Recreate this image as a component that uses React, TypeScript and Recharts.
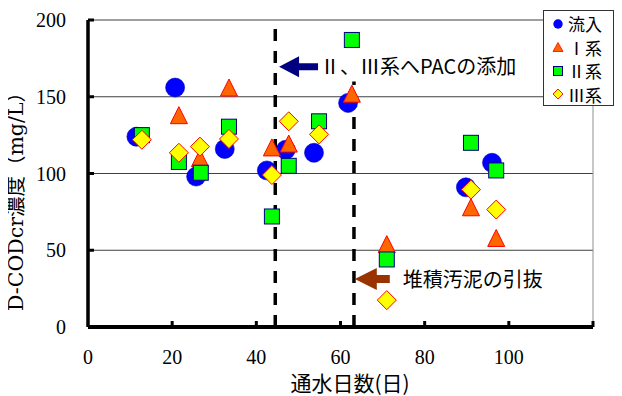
import React from 'react';
import {
  ScatterChart,
  Scatter,
  XAxis,
  YAxis,
  CartesianGrid,
  ReferenceLine,
  ReferenceDot,
  Legend,
} from 'recharts';

// ---- data ----
const seriesNames = ['流入', 'Ⅰ系', 'Ⅱ系', 'Ⅲ系'];

const inflowDays = [11.5, 20.7, 25.7, 32.5, 42.5, 47, 53.7, 61.8, 89.8, 96];
const inflowCod = [124, 156, 98, 116, 102, 115.5, 113.5, 146, 91, 107];

const sys1Days = [21.6, 26.6, 33.5, 43.7, 47.7, 62.7, 71, 91, 97];
const sys1Cod = [138, 110, 156, 117, 119.5, 152, 54, 78, 58];

const sys2Days = [12.8, 21.6, 26.8, 33.5, 43.7, 47.7, 54.9, 62.7, 71, 91, 97];
const sys2Cod = [125, 107.5, 100.5, 130.5, 72, 105, 134, 187, 44, 120, 102];

const sys3Days = [12.8, 21.6, 26.6, 33.5, 43.7, 47.7, 54.9, 71, 91, 97];
const sys3Cod = [122, 113.5, 117.5, 122.5, 99, 134, 125.5, 17.5, 89.5, 76.5];

const xTicks = [0, 20, 40, 60, 80, 100, 120];
const yTicks = [0, 50, 100, 150, 200];

const pacDay = 44.5;
const sludgeDay = 63.2;
const pacLabel = 'Ⅱ、Ⅲ系へPACの添加';
const sludgeLabel = '堆積汚泥の引抜';
const xTitle = '通水日数(日)';
const yTitle = 'D-CODcr濃度（mg/L）';

const toPoints = (xs: number[], ys: number[]) => xs.map((x, i) => ({ x, y: ys[i] }));
const inflowData = toPoints(inflowDays, inflowCod);
const sys1Data = toPoints(sys1Days, sys1Cod);
const sys2Data = toPoints(sys2Days, sys2Cod);
const sys3Data = toPoints(sys3Days, sys3Cod);

// ---- styles ----
const SERIF = "'Liberation Serif', 'Times New Roman', serif";
const SANS = "'Noto Sans CJK JP', 'Noto Sans', sans-serif";
const YSERIF = "'DejaVu Serif', 'Noto Sans CJK JP', serif";

const BLUE = '#0000FF';
const ORANGE = '#FF6600';
const RED = '#FF0000';
const GREEN = '#00FF00';
const NAVY = '#000080';
const YELLOW = '#FFFF00';
const BROWN = '#993300';

// ---- marker shapes ----
const CircleMark = (p: any) => (
  <circle cx={p.cx} cy={p.cy} r={9.5} fill={BLUE} stroke="#0000C0" strokeWidth={0.6} />
);
const TriMark = (p: any) => {
  const { cx, cy } = p;
  const w = 17;
  const h = 17;
  return (
    <polygon
      points={`${cx},${cy - h / 2} ${cx + w / 2},${cy + h / 2} ${cx - w / 2},${cy + h / 2}`}
      fill={ORANGE}
      stroke={RED}
      strokeWidth={1}
    />
  );
};
const SqMark = (p: any) => (
  <rect x={p.cx - 7.5} y={p.cy - 7.5} width={15} height={15} fill={GREEN} stroke={NAVY} strokeWidth={1} />
);
const DiaMark = (p: any) => {
  const { cx, cy } = p;
  const r = 9.5;
  return (
    <polygon
      points={`${cx},${cy - r} ${cx + r},${cy} ${cx},${cy + r} ${cx - r},${cy}`}
      fill={YELLOW}
      stroke={RED}
      strokeWidth={1}
    />
  );
};

// ---- ticks ----
const X_TICK_MARGIN = 23;
const XTick = (p: any) => {
  const { x, y, payload } = p;
  const v = payload.value;
  const axisY = y - X_TICK_MARGIN;
  return (
    <g>
      {v !== 0 && <line x1={x} x2={x} y1={axisY} y2={axisY - 6} stroke="#000" strokeWidth={3} />}
      {v !== 120 && (
        <text x={x} y={y} dy="0.71em" textAnchor="middle" fontFamily={SERIF} fontSize={20} fill="#000">
          {v}
        </text>
      )}
    </g>
  );
};

const Y_TICK_MARGIN = 22;
const YTick = (p: any) => {
  const { x, y, payload } = p;
  const axisX = x + Y_TICK_MARGIN;
  return (
    <g>
      <line x1={axisX} x2={axisX + 6} y1={y} y2={y} stroke="#000" strokeWidth={3} />
      <text x={x} y={y} dy="0.355em" textAnchor="end" fontFamily={SERIF} fontSize={20} fill="#000">
        {payload.value}
      </text>
    </g>
  );
};

const XTitle = (p: any) => {
  const vb = p.viewBox || { x: 88, y: 327, width: 505, height: 69 };
  const cx = vb.x + vb.width / 2 + 9.5;
  return (
    <text x={cx} y={vb.y + 56} dy="0.38em" textAnchor="middle" fontFamily={SANS} fontSize={21} fill="#000">
      {xTitle}
    </text>
  );
};

const YTitle = (p: any) => {
  const vb = p.viewBox || { x: 0, y: 20, width: 88, height: 307 };
  const cx = vb.x + 16;
  const cy = vb.y + vb.height / 2 + 23;
  return (
    <text
      x={cx}
      y={cy}
      dy="0.35em"
      textAnchor="middle"
      transform={`rotate(-90 ${cx} ${cy})`}
      fontFamily={YSERIF}
      fontSize={20.5}
      fill="#000"
    >
      {yTitle}
    </text>
  );
};

// ---- annotations ----
const arrowPoints = (cx: number, cy: number, head: number, headHalf: number, shaft: number, shaftHalf: number) =>
  [
    [0, 0],
    [head, -headHalf],
    [head, -shaftHalf],
    [shaft, -shaftHalf],
    [shaft, shaftHalf],
    [head, shaftHalf],
    [head, headHalf],
  ]
    .map(([dx, dy]) => `${cx + dx},${cy + dy}`)
    .join(' ');

const PacNote = (p: any) => {
  const { cx, cy } = p;
  return (
    <g>
      <polygon points={arrowPoints(cx, cy, 20, 10.5, 39, 3.5)} fill={NAVY} />
      <text x={cx + 41} y={cy} dy="0.38em" fontFamily={SANS} fontSize={20} fill="#000">
        {pacLabel}
      </text>
    </g>
  );
};

const SludgeNote = (p: any) => {
  const { cx, cy } = p;
  return (
    <g>
      <polygon points={arrowPoints(cx, cy, 22, 11, 35, 4)} fill={BROWN} />
      <text x={cx + 48} y={cy} dy="0.38em" fontFamily={SANS} fontSize={20} fill="#000">
        {sludgeLabel}
      </text>
    </g>
  );
};

// ---- legend ----
const LegendIcon = ({ idx }: { idx: number }) => (
  <svg width={12} height={12} style={{ display: 'block' }}>
    {idx === 0 && <circle cx={6} cy={6} r={4.7} fill={BLUE} />}
    {idx === 1 && <polygon points="6,1.5 11,10.5 1,10.5" fill={ORANGE} stroke={RED} strokeWidth={0.8} />}
    {idx === 2 && <rect x={1.5} y={1.5} width={9} height={9} fill={GREEN} stroke={NAVY} strokeWidth={1} />}
    {idx === 3 && <polygon points="6,1 11,6 6,11 1,6" fill={YELLOW} stroke={RED} strokeWidth={0.9} />}
  </svg>
);

const renderLegend = () => (
  <div
    style={{
      width: 71,
      height: 96,
      boxSizing: 'border-box',
      border: '1px solid #333',
      background: '#fff',
      paddingTop: 1,
    }}
  >
    {seriesNames.map((name, i) => (
      <div key={name} style={{ display: 'flex', alignItems: 'center', height: 23.5 }}>
        <div style={{ width: 8 }} />
        <LegendIcon idx={i} />
        <div style={{ width: 4 }} />
        <span style={{ fontFamily: SANS, fontSize: 17, lineHeight: '23px', color: '#000', whiteSpace: 'nowrap' }}>
          {name}
        </span>
      </div>
    ))}
  </div>
);

export default function App() {
  return (
    <div style={{ margin: '-8px 0 0 -8px', width: 622, height: 396 }}>
      <ScatterChart width={622} height={396} margin={{ top: 20, right: 29, bottom: 0, left: 0 }}>
        <CartesianGrid horizontal vertical={false} stroke="#404040" strokeWidth={1} />
        <XAxis
          type="number"
          dataKey="x"
          domain={[0, 120]}
          ticks={xTicks}
          interval={0}
          height={69}
          axisLine={{ stroke: '#000', strokeWidth: 4 }}
          tickLine={false}
          tickSize={0}
          tickMargin={X_TICK_MARGIN}
          tick={XTick}
          label={XTitle}
          allowDataOverflow
        />
        <YAxis
          type="number"
          dataKey="y"
          domain={[0, 200]}
          ticks={yTicks}
          interval={0}
          width={88}
          axisLine={{ stroke: '#000', strokeWidth: 3.5 }}
          tickLine={false}
          tickSize={0}
          tickMargin={Y_TICK_MARGIN}
          tick={YTick}
          label={YTitle}
          allowDataOverflow
        />
        <ReferenceLine x={120} stroke="#909090" strokeWidth={1} />
        <Scatter name={seriesNames[0]} data={inflowData} fill={BLUE} shape={CircleMark} isAnimationActive={false} />
        <Scatter name={seriesNames[1]} data={sys1Data} fill={ORANGE} shape={TriMark} isAnimationActive={false} />
        <Scatter name={seriesNames[2]} data={sys2Data} fill={GREEN} shape={SqMark} isAnimationActive={false} />
        <Scatter name={seriesNames[3]} data={sys3Data} fill={YELLOW} shape={DiaMark} isAnimationActive={false} />
        <ReferenceLine x={pacDay} stroke="#000" strokeWidth={3.5} strokeDasharray="12 10" />
        <ReferenceLine
          segment={[
            { x: sludgeDay, y: 0 },
            { x: sludgeDay, y: 160 },
          ]}
          stroke="#000"
          strokeWidth={3.5}
          strokeDasharray="12 10"
        />
        <ReferenceDot x={45.4} y={169.6} r={0} shape={PacNote} />
        <ReferenceDot x={63.4} y={31.3} r={0} shape={SludgeNote} />
        <Legend
          layout="vertical"
          align="center"
          verticalAlign="middle"
          content={renderLegend}
          wrapperStyle={{ left: 543, top: 10, width: 71, height: 96 }}
        />
      </ScatterChart>
    </div>
  );
}
